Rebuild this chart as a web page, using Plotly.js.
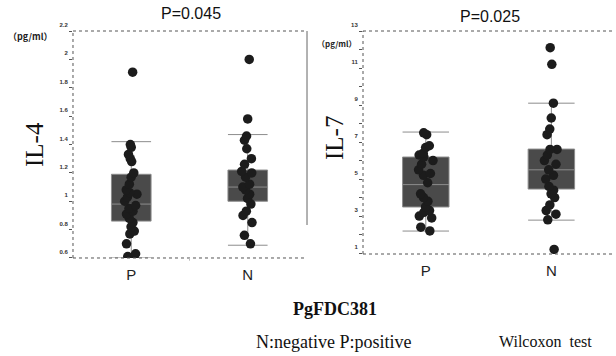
<!DOCTYPE html>
<html>
<head>
<meta charset="utf-8">
<script src="https://cdn.plot.ly/plotly-3.0.1.min.js"></script>
<style>html,body{margin:0;padding:0;background:#fff;}#chart{width:616px;height:356px;}</style>
</head>
<body>
<div id="chart"></div>
<script>
// ---- data ----
const groups = ['P', 'N'];
// IL-4 (pg/ml)
const il4_P = [1.91, 1.40, 1.38, 1.33, 1.30, 1.28, 1.20, 1.17, 1.12, 1.08, 1.06, 1.05, 1.03, 1.00, 0.97, 0.95, 0.93, 0.91, 0.88, 0.85, 0.82, 0.79, 0.77, 0.70, 0.63, 0.61, 0.60];
const il4_N = [2.00, 1.58, 1.46, 1.43, 1.37, 1.30, 1.26, 1.21, 1.20, 1.17, 1.12, 1.10, 1.08, 1.05, 1.02, 0.98, 0.93, 0.90, 0.85, 0.76, 0.70];
const il4_q1 = [0.86, 1.00];
const il4_median = [0.98, 1.10];
const il4_q3 = [1.19, 1.22];
const il4_lower = [0.60, 0.69];
const il4_upper = [1.42, 1.47];
// IL-7 (pg/ml)
const il7_P = [7.5, 7.4, 6.8, 6.7, 6.4, 6.3, 6.2, 6.0, 5.8, 5.5, 5.3, 5.2, 4.8, 4.2, 4.0, 3.8, 3.5, 3.3, 3.2, 3.0, 2.9, 2.4, 2.2];
const il7_N = [12.1, 11.2, 9.1, 8.3, 7.7, 7.4, 6.6, 6.6, 6.3, 6.0, 5.8, 5.5, 5.2, 5.0, 4.6, 4.4, 4.2, 4.0, 3.6, 3.3, 3.1, 2.8, 1.2];
const il7_q1 = [3.49, 4.46];
const il7_median = [4.7, 5.5];
const il7_q3 = [6.19, 6.62];
const il7_lower = [2.19, 2.78];
const il7_upper = [7.54, 9.1];
// ticks
const il4_tickvals = [0.6, 0.8, 1.0, 1.2, 1.4, 1.6, 1.8, 2.0, 2.2];
const il4_ticktext = ['0.6', '0.8', '1', '1.2', '1.4', '1.6', '1.8', '2', '2.2'];
const il7_tickvals = [1, 2, 3, 4, 5, 6, 7, 8, 9, 10, 11, 12, 13];
const il7_ticktext = ['1', '', '3', '', '5', '', '7', '', '9', '', '11', '', '13'];
const pTexts = ['P=0.045', 'P=0.025'];

// ---- styles ----
const boxFill = '#4a4a4a';
const boxLine = '#8c8c8c';
const dotColor = '#1c1c1c';
const sans = 'Liberation Sans, Arial, sans-serif';
const serif = '"Liberation Serif", "Times New Roman", serif';

function statsBox(xa, ya, q1, med, q3, lo, hi, w) {
  return {
    type: 'box', x: groups, q1: q1, median: med, q3: q3,
    lowerfence: lo, upperfence: hi, boxpoints: false,
    width: w, whiskerwidth: 1,
    fillcolor: boxFill, line: {color: boxLine, width: 1},
    xaxis: xa, yaxis: ya, showlegend: false, hoverinfo: 'y'
  };
}
function pointsBox(xa, ya, name, vals, w) {
  return {
    type: 'box', name: name, x0: name, y: vals, boxpoints: 'all',
    jitter: 0.35, pointpos: 0, width: w,
    fillcolor: 'rgba(0,0,0,0)', line: {color: 'rgba(0,0,0,0)', width: 0},
    marker: {color: dotColor, size: 9.5},
    xaxis: xa, yaxis: ya, showlegend: false, hoveron: 'points'
  };
}

const data = [
  statsBox('x', 'y', il4_q1, il4_median, il4_q3, il4_lower, il4_upper, 0.34),
  pointsBox('x', 'y', 'P', il4_P, 0.34),
  pointsBox('x', 'y', 'N', il4_N, 0.34),
  statsBox('x2', 'y2', il7_q1, il7_median, il7_q3, il7_lower, il7_upper, 0.37),
  pointsBox('x2', 'y2', 'P', il7_P, 0.37),
  pointsBox('x2', 'y2', 'N', il7_N, 0.37)
];

const xCommon = {
  type: 'category', categoryorder: 'array', categoryarray: groups,
  range: [-0.5, 1.5], showline: false, showgrid: false, zeroline: false,
  ticks: '', tickfont: {family: sans, size: 15, color: '#222'}, ticklabelstandoff: 6
};
const yCommon = {
  showline: false, showgrid: false, zeroline: false,
  ticks: 'outside', ticklen: 3, tickcolor: '#555', tickwidth: 1,
  tickfont: {family: sans, size: 6, color: '#333', weight: 'bold'},
  tickmode: 'array', ticklabelshift: -6
};

function borders(xr, yr) {
  const ln = {color: '#555', width: 1, dash: 'dot'};
  return [
    {type: 'line', xref: xr + ' domain', yref: yr + ' domain', x0: 0, x1: 1, y0: 1, y1: 1, line: ln},
    {type: 'line', xref: xr + ' domain', yref: yr + ' domain', x0: 0, x1: 1, y0: 0, y1: 0, line: ln},
    {type: 'line', xref: xr + ' domain', yref: yr + ' domain', x0: 0, x1: 0, y0: 0, y1: 1, line: ln},
    {type: 'line', xref: xr + ' domain', yref: yr + ' domain', x0: 0.5, x1: 0.5, y0: 0, y1: -0.012, line: {color: '#bbb', width: 1}}
  ];
}

const layout = {
  width: 616, height: 356,
  margin: {l: 0, r: 0, t: 0, b: 0},
  paper_bgcolor: '#fff', plot_bgcolor: '#fff',
  boxmode: 'overlay', showlegend: false,
  xaxis: Object.assign({}, xCommon, {domain: [0.1185, 0.4968], anchor: 'y'}),
  yaxis: Object.assign({}, yCommon, {domain: [0.2753, 0.9129], range: [0.6, 2.2], anchor: 'x',
    tickvals: il4_tickvals, ticktext: il4_ticktext}),
  xaxis2: Object.assign({}, xCommon, {domain: [0.5893, 0.997], anchor: 'y2'}),
  yaxis2: Object.assign({}, yCommon, {domain: [0.2865, 0.9129], range: [0.95, 13], anchor: 'x2',
    tickvals: il7_tickvals, ticktext: il7_ticktext}),
  shapes: borders('x', 'y').concat(borders('x2', 'y2')).concat([
    {type: 'line', xref: 'paper', yref: 'paper', x0: 0.4984, x1: 0.4984, y0: 0.368, y1: 0.9129,
     line: {color: '#999', width: 1.5}}
  ]),
  annotations: [
    {text: pTexts[0], xref: 'paper', yref: 'paper', x: 191 / 616, y: 1 - 13 / 356, showarrow: false,
     xanchor: 'center', yanchor: 'middle', font: {family: sans, size: 16, color: '#111'}},
    {text: pTexts[1], xref: 'paper', yref: 'paper', x: 490 / 616, y: 1 - 17 / 356, showarrow: false,
     xanchor: 'center', yanchor: 'middle', font: {family: sans, size: 16, color: '#111'}},
    {text: '（pg/ml）', xref: 'paper', yref: 'paper', x: 30 / 616, y: 1 - 37 / 356, showarrow: false,
     xanchor: 'center', yanchor: 'middle', font: {family: 'Noto Sans CJK JP, sans-serif', size: 9, color: '#222', weight: 'bold'}},
    {text: '（pg/ml）', xref: 'paper', yref: 'paper', x: 337 / 616, y: 1 - 43 / 356, showarrow: false,
     xanchor: 'center', yanchor: 'middle', font: {family: 'Noto Sans CJK JP, sans-serif', size: 8, color: '#222', weight: 'bold'}},
    {text: 'IL-4', xref: 'paper', yref: 'paper', x: 35 / 616, y: 1 - 145 / 356, showarrow: false, textangle: -90,
     xanchor: 'center', yanchor: 'middle', font: {family: serif, size: 25, color: '#111'}},
    {text: 'IL-7', xref: 'paper', yref: 'paper', x: 335 / 616, y: 1 - 138 / 356, showarrow: false, textangle: -90,
     xanchor: 'center', yanchor: 'middle', font: {family: serif, size: 25, color: '#111'}},
    {text: '<b>PgFDC381</b>', xref: 'paper', yref: 'paper', x: 335 / 616, y: 1 - 309 / 356, showarrow: false,
     xanchor: 'center', yanchor: 'middle', font: {family: serif, size: 18, color: '#111'}},
    {text: 'N:negative P:positive', xref: 'paper', yref: 'paper', x: 333 / 616, y: 1 - 342 / 356, showarrow: false,
     xanchor: 'center', yanchor: 'middle', font: {family: serif, size: 18, color: '#111'}},
    {text: 'Wilcoxon\u00a0\u00a0test', xref: 'paper', yref: 'paper', x: 545 / 616, y: 1 - 341 / 356, showarrow: false,
     xanchor: 'center', yanchor: 'middle', font: {family: serif, size: 16, color: '#111'}}
  ]
};

Plotly.newPlot('chart', data, layout, {staticPlot: true, displayModeBar: false});
</script>
</body>
</html>
